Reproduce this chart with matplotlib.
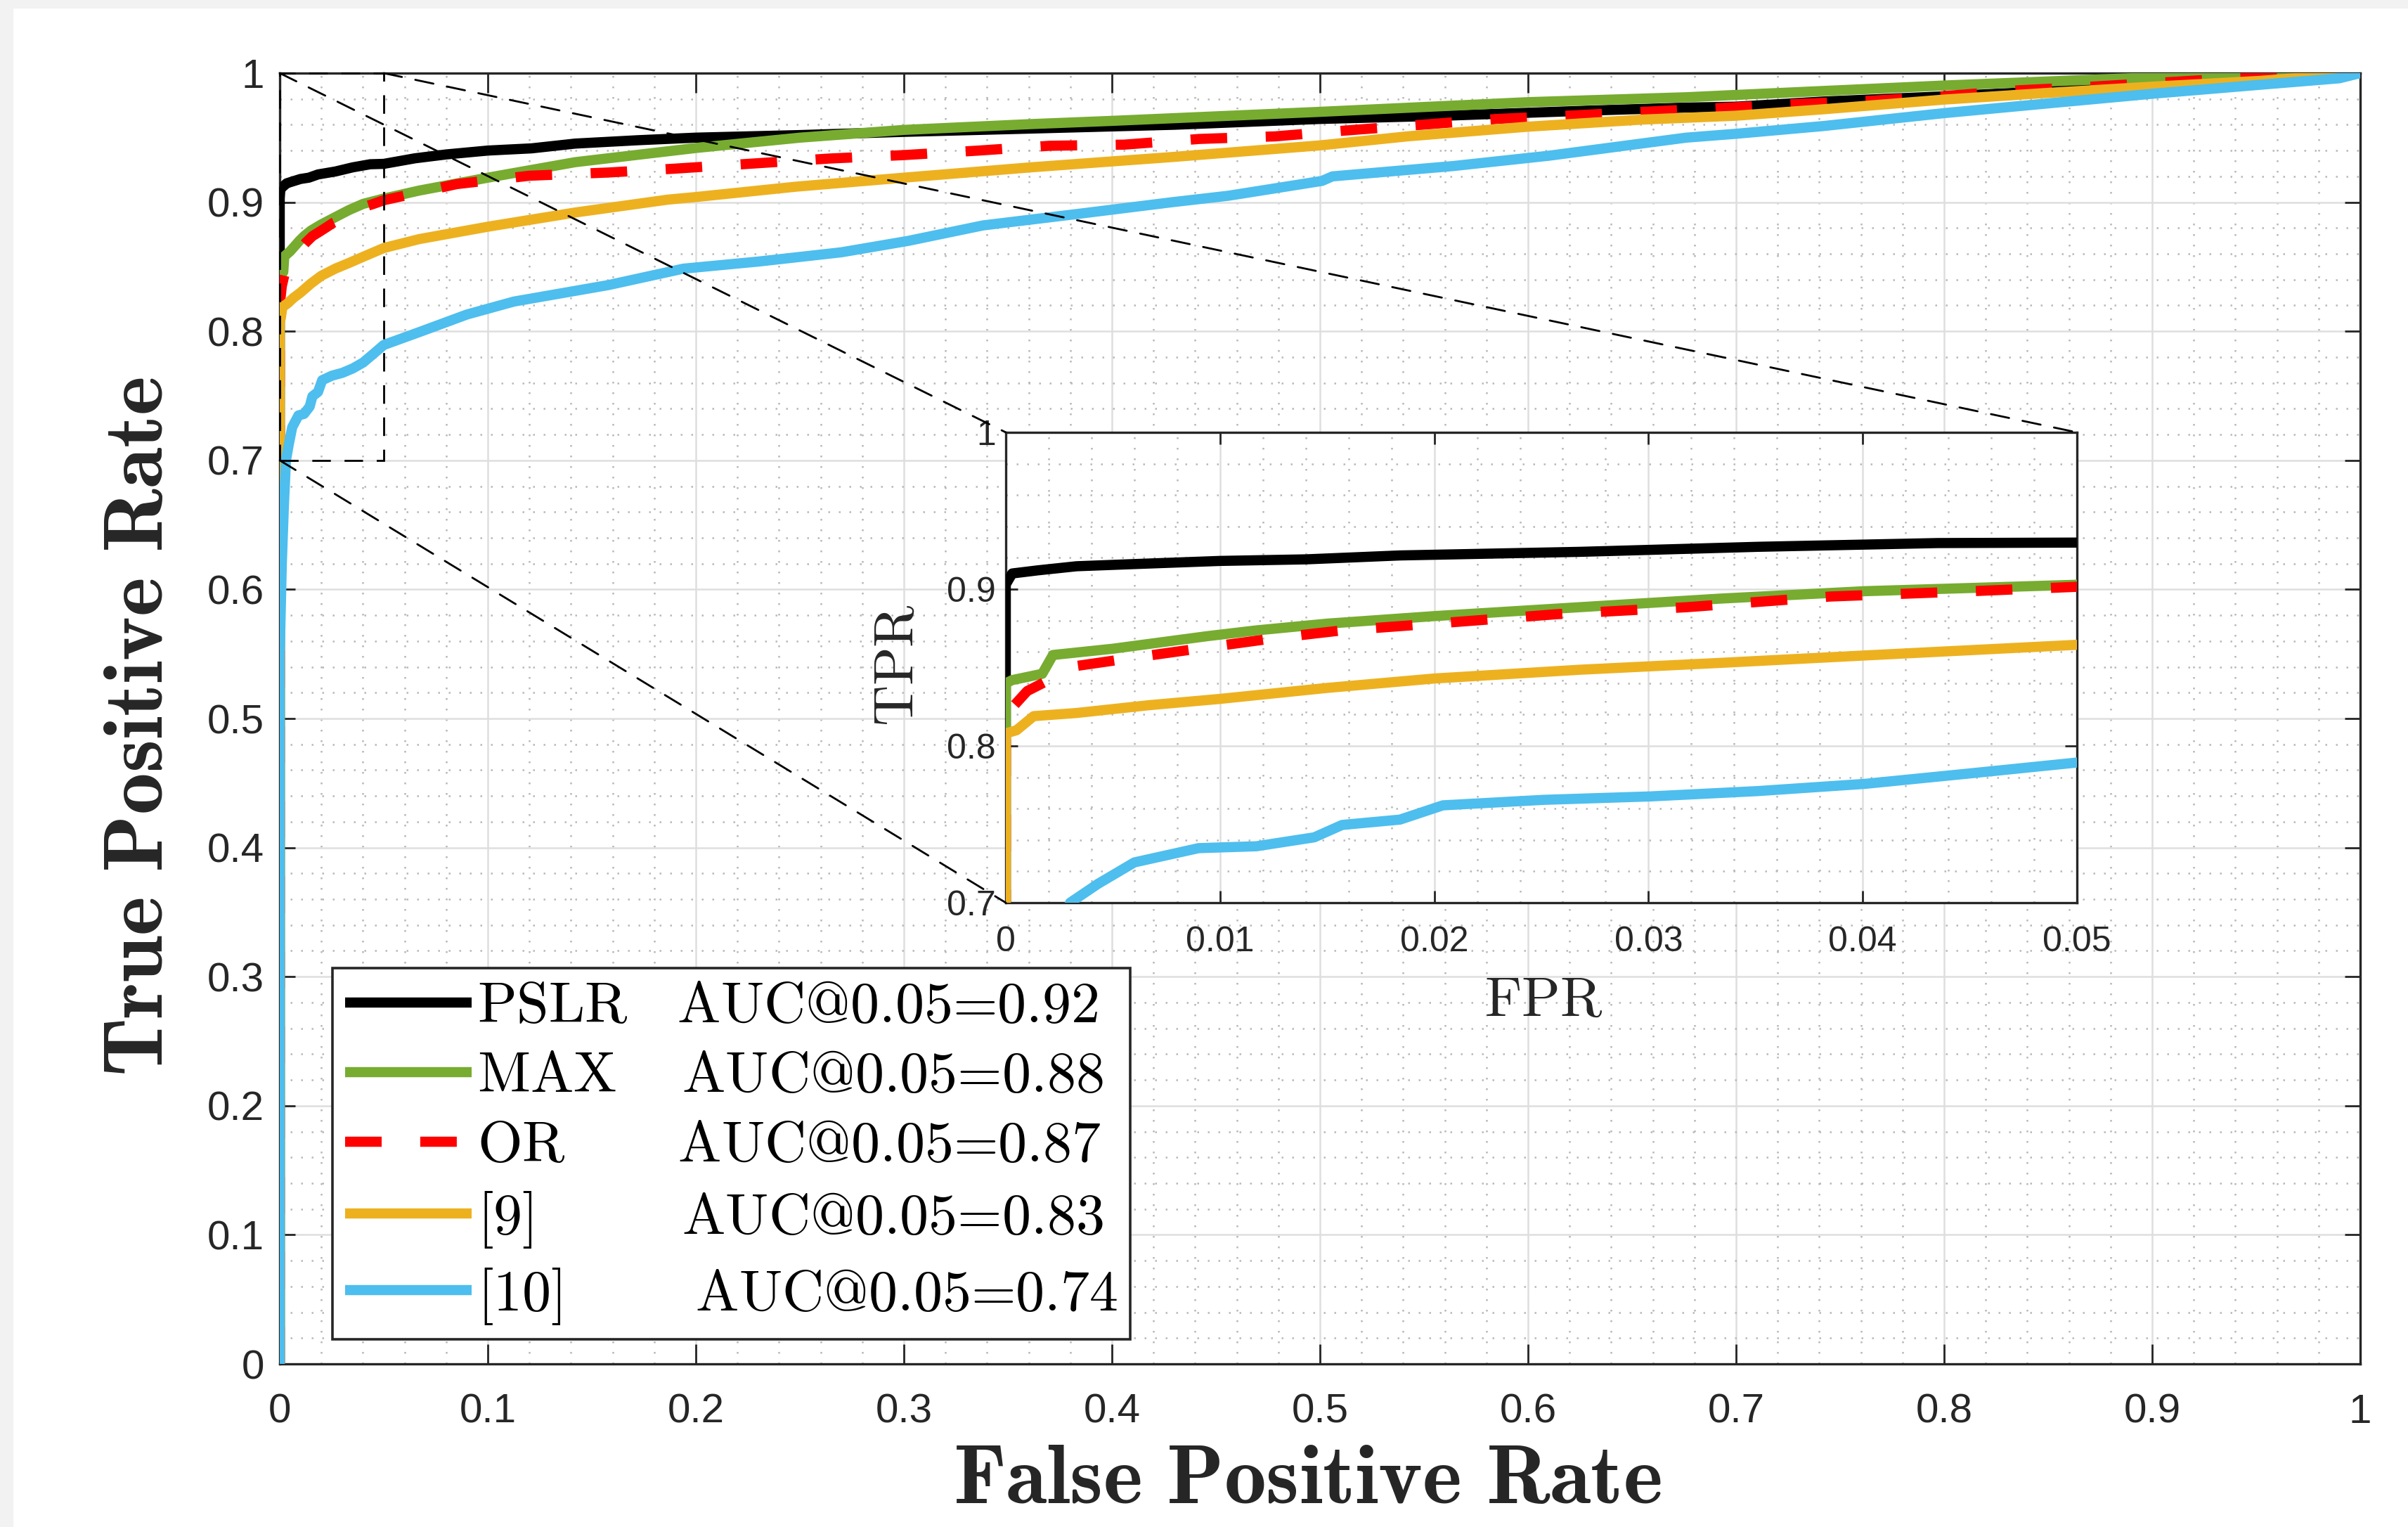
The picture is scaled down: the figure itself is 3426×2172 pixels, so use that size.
import matplotlib.pyplot as plt
from matplotlib.patches import Rectangle, ConnectionPatch
from matplotlib.ticker import MultipleLocator, FixedLocator, FuncFormatter

plt.rcParams['mathtext.fontset'] = 'cm'
plt.rcParams['font.family'] = ['Liberation Sans', 'DejaVu Sans']

# --------------------------------------------------------------
# ROC data
# --------------------------------------------------------------
pslr_fpr = [0, 0, 0.0003, 0.0015, 0.0033, 0.006, 0.01, 0.014, 0.0184, 0.0268, 0.0351, 0.0435, 0.05,
            0.065, 0.08, 0.1, 0.121, 0.142, 0.172, 0.2, 0.25, 0.3, 0.36, 0.43, 0.5, 0.56, 0.63,
            0.676, 0.7, 0.742, 0.8, 0.85, 0.9, 0.95, 1.0]
pslr_tpr = [0, 0.903, 0.910, 0.912, 0.9146, 0.916, 0.918, 0.919, 0.9215, 0.9238, 0.927, 0.9294, 0.9297,
            0.934, 0.937, 0.940, 0.9417, 0.9454, 0.948, 0.950, 0.952, 0.9545, 0.957, 0.960, 0.9645, 0.967, 0.971,
            0.9733, 0.974, 0.978, 0.982, 0.986, 0.991, 0.996, 1.0]

max_fpr = [0, 0, 0.0003, 0.0017, 0.0022, 0.005, 0.0094, 0.0117, 0.015, 0.020, 0.0268, 0.0334, 0.0401,
           0.05, 0.067, 0.1, 0.142, 0.2, 0.25, 0.3, 0.361, 0.4, 0.5, 0.6, 0.676, 0.7, 0.8, 0.9, 1.0]
max_tpr = [0, 0.840, 0.842, 0.846, 0.858, 0.862, 0.870, 0.8737, 0.878, 0.8828, 0.8885, 0.894, 0.8987,
           0.9028, 0.909, 0.919, 0.931, 0.942, 0.950, 0.956, 0.9605, 0.963, 0.970, 0.9775, 0.9813, 0.9831,
           0.9904, 0.9967, 1.0]

or_fpr = [0, 0, 0.001, 0.0033, 0.0067, 0.0097, 0.0127, 0.0157, 0.019, 0.0224, 0.0257, 0.0318, 0.0385,
          0.0451, 0.05, 0.085, 0.12, 0.158, 0.19, 0.228, 0.264, 0.3, 0.336, 0.37, 0.406, 0.442, 0.4785,
          0.512, 0.549, 0.585, 0.619, 0.655, 0.693, 0.728, 0.765, 0.8, 0.836, 0.871, 0.908, 0.944, 0.98, 1.0]
or_tpr = [0, 0.82, 0.835, 0.851, 0.8577, 0.8634, 0.869, 0.8737, 0.877, 0.8805, 0.884, 0.8885, 0.8953,
          0.8987, 0.9015, 0.914, 0.9205, 0.923, 0.926, 0.930, 0.9338, 0.9365, 0.940, 0.9437, 0.9446, 0.949,
          0.951, 0.9555, 0.960, 0.9645, 0.967, 0.970, 0.973, 0.976, 0.9786, 0.9822, 0.9867, 0.9895, 0.993,
          0.9965, 0.999, 1.0]

ref9_fpr = [0, 0, 0.0005, 0.0013, 0.0033, 0.0067, 0.01, 0.015, 0.02, 0.0268, 0.0334, 0.0401, 0.05,
            0.067, 0.1, 0.142, 0.1866, 0.2, 0.248, 0.3, 0.361, 0.429, 0.5, 0.542, 0.6, 0.655, 0.7, 0.742,
            0.8, 0.853, 0.9, 0.952, 1.0]
ref9_tpr = [0, 0.808, 0.81, 0.819, 0.821, 0.826, 0.830, 0.837, 0.843, 0.8486, 0.853, 0.8577, 0.8645,
            0.8714, 0.881, 0.892, 0.902, 0.904, 0.912, 0.919, 0.927, 0.935, 0.944, 0.951, 0.9585, 0.964,
            0.967, 0.972, 0.9795, 0.985, 0.9895, 0.994, 1.0]

ref10_fpr = [0, 0, 0.001, 0.002, 0.003, 0.0043, 0.006, 0.009, 0.0117, 0.0144, 0.0157, 0.0184, 0.0204,
             0.0251, 0.0301, 0.0351, 0.0401, 0.0451, 0.05, 0.0673, 0.09, 0.1125, 0.158, 0.194, 0.23, 0.27,
             0.302, 0.338, 0.384, 0.429, 0.456, 0.501, 0.506, 0.564, 0.61, 0.676, 0.7, 0.742, 0.8, 0.853,
             0.9, 0.952, 0.99, 1.0]
ref10_tpr = [0, 0.55, 0.62, 0.665, 0.70, 0.712, 0.7257, 0.7348, 0.736, 0.7417, 0.7496, 0.753, 0.7621,
             0.7656, 0.7678, 0.7712, 0.7758, 0.7826, 0.7894, 0.7995, 0.813, 0.823, 0.8358, 0.8485, 0.854,
             0.8612, 0.870, 0.882, 0.891, 0.900, 0.905, 0.9165, 0.920, 0.928, 0.936, 0.950, 0.953,
             0.959, 0.969, 0.977, 0.984, 0.991, 0.996, 1.0]

names = ['PSLR', 'MAX', 'OR', '[9]', '[10]']
auc = ['0.92', '0.88', '0.87', '0.83', '0.74']
curves = [(pslr_fpr, pslr_tpr), (max_fpr, max_tpr), (or_fpr, or_tpr),
          (ref9_fpr, ref9_tpr), (ref10_fpr, ref10_tpr)]

colors = ['#000000', '#77AC30', '#FF0000', '#EDB120', '#4DBEEE']
styles = ['-', '-', (0, (3.6, 3.8)), '-', '-']
gaps = [1.0, 1.3, 2.25, 2.85, 2.55]   # spacing between name and AUC text
dark = '#262626'
lw = 5.2

# --------------------------------------------------------------
# Figure
# --------------------------------------------------------------
fig = plt.figure(figsize=(17.13, 10.86), dpi=200)
fig.patches.append(Rectangle((0, 0), 1, 1, transform=fig.transFigure, color='#f2f2f2', zorder=-10))
fig.patches.append(Rectangle((20 / 3426, 0), 1, 1 - 13 / 2172, transform=fig.transFigure,
                             color='white', zorder=-9))

ax = fig.add_axes([398 / 3426, 1 - 1940 / 2172, 2960 / 3426, 1836 / 2172])
axins = fig.add_axes([1431 / 3426, 1 - 1284 / 2172, 1524 / 3426, 669 / 2172])

for i, (x, y) in enumerate(curves):
    # '=' is a relation in mathtext, pull the automatic spacing back out
    label = (r'$\mathrm{%s}\hspace{%.2f}\mathrm{AUC@0.05}\hspace{-0.2}=\hspace{-0.2}\mathrm{%s}$'
             % (names[i], gaps[i], auc[i]))
    for a in (ax, axins):
        a.plot(x, y, color=colors[i], ls=styles[i], lw=lw, solid_joinstyle='round',
               solid_capstyle='butt', label=label if a is ax else None, zorder=3)


def style_axes(a, xmaj, xmin, ymaj, ymin, fs, xlen, ylen, xpad, ypad):
    a.set_facecolor('white')
    a.set_axisbelow(True)
    a.xaxis.set_major_locator(xmaj)
    a.xaxis.set_minor_locator(xmin)
    a.yaxis.set_major_locator(ymaj)
    a.yaxis.set_minor_locator(ymin)
    fmt = FuncFormatter(lambda v, p: f'{v:g}')
    a.xaxis.set_major_formatter(fmt)
    a.yaxis.set_major_formatter(fmt)
    a.grid(which='major', color='#dedede', lw=0.9, ls='-')
    a.grid(which='minor', color='#b8b8b8', lw=0.9, ls=(0, (1, 5)))
    a.tick_params(which='both', direction='in', top=True, right=True, colors=dark, labelsize=fs)
    a.tick_params(axis='x', which='major', length=xlen, width=1.0, pad=xpad)
    a.tick_params(axis='y', which='major', length=ylen, width=1.0, pad=ypad)
    a.tick_params(which='minor', length=0)
    for s in a.spines.values():
        s.set_color(dark)
        s.set_linewidth(1.2)


style_axes(ax, MultipleLocator(0.1), MultipleLocator(0.02), MultipleLocator(0.1), MultipleLocator(0.02),
           21, 10, 8, 15, 8)
ax.set_xlim(0, 1)
ax.set_ylim(0, 1)

style_axes(axins, FixedLocator([0, 0.01, 0.02, 0.03, 0.04, 0.05]), MultipleLocator(0.002),
           FixedLocator([0.7, 0.8, 0.9, 1.0]), MultipleLocator(0.02), 18, 6, 6, 12, 5)
axins.set_xlim(0, 0.05)
axins.set_ylim(0.7, 1)

# axis labels
ax.set_xlabel(r'$\mathbf{False\ Positive\ Rate}$', fontsize=43, color=dark, va='center')
ax.xaxis.set_label_coords(0.494, -0.0915)
ax.set_ylabel(r'$\mathbf{True\ Positive\ Rate}$', fontsize=43, color=dark, va='center', ha='center')
ax.yaxis.set_label_coords(-0.0666, 0.4935)

axins.set_xlabel(r'$\mathrm{FPR}$', fontsize=29, color=dark, va='center')
axins.xaxis.set_label_coords(0.502, -0.21)
axins.set_ylabel(r'$\mathrm{TPR}$', fontsize=29, color=dark, va='center', ha='center')
axins.yaxis.set_label_coords(-0.1, 0.505)

# zoom box and connectors
ax.add_patch(Rectangle((0, 0.7), 0.05, 0.3, fill=False, ec='black', lw=1.0,
                       ls=(0, (9.5, 7)), zorder=5, clip_on=False))
for pa, pb in [((0, 1), (0, 1)), ((0.05, 1), (1, 1)), ((0, 0.7), (0, 0))]:
    con = ConnectionPatch(xyA=pa, coordsA='data', axesA=ax, xyB=pb, coordsB='axes fraction',
                          axesB=axins, color='black', lw=1.0, ls=(0, (9.5, 7)), zorder=5)
    fig.add_artist(con)

# legend
leg = ax.legend(loc='lower left', bbox_to_anchor=(0.0253, 0.019), borderaxespad=0,
                fontsize=29.5, handlelength=2.2, handletextpad=0.1, borderpad=0.22,
                labelspacing=0.28, fancybox=False, framealpha=1, edgecolor=dark)
leg.get_frame().set_linewidth(1.3)
leg.set_zorder(6)

fig.savefig('out.png', dpi=200)
